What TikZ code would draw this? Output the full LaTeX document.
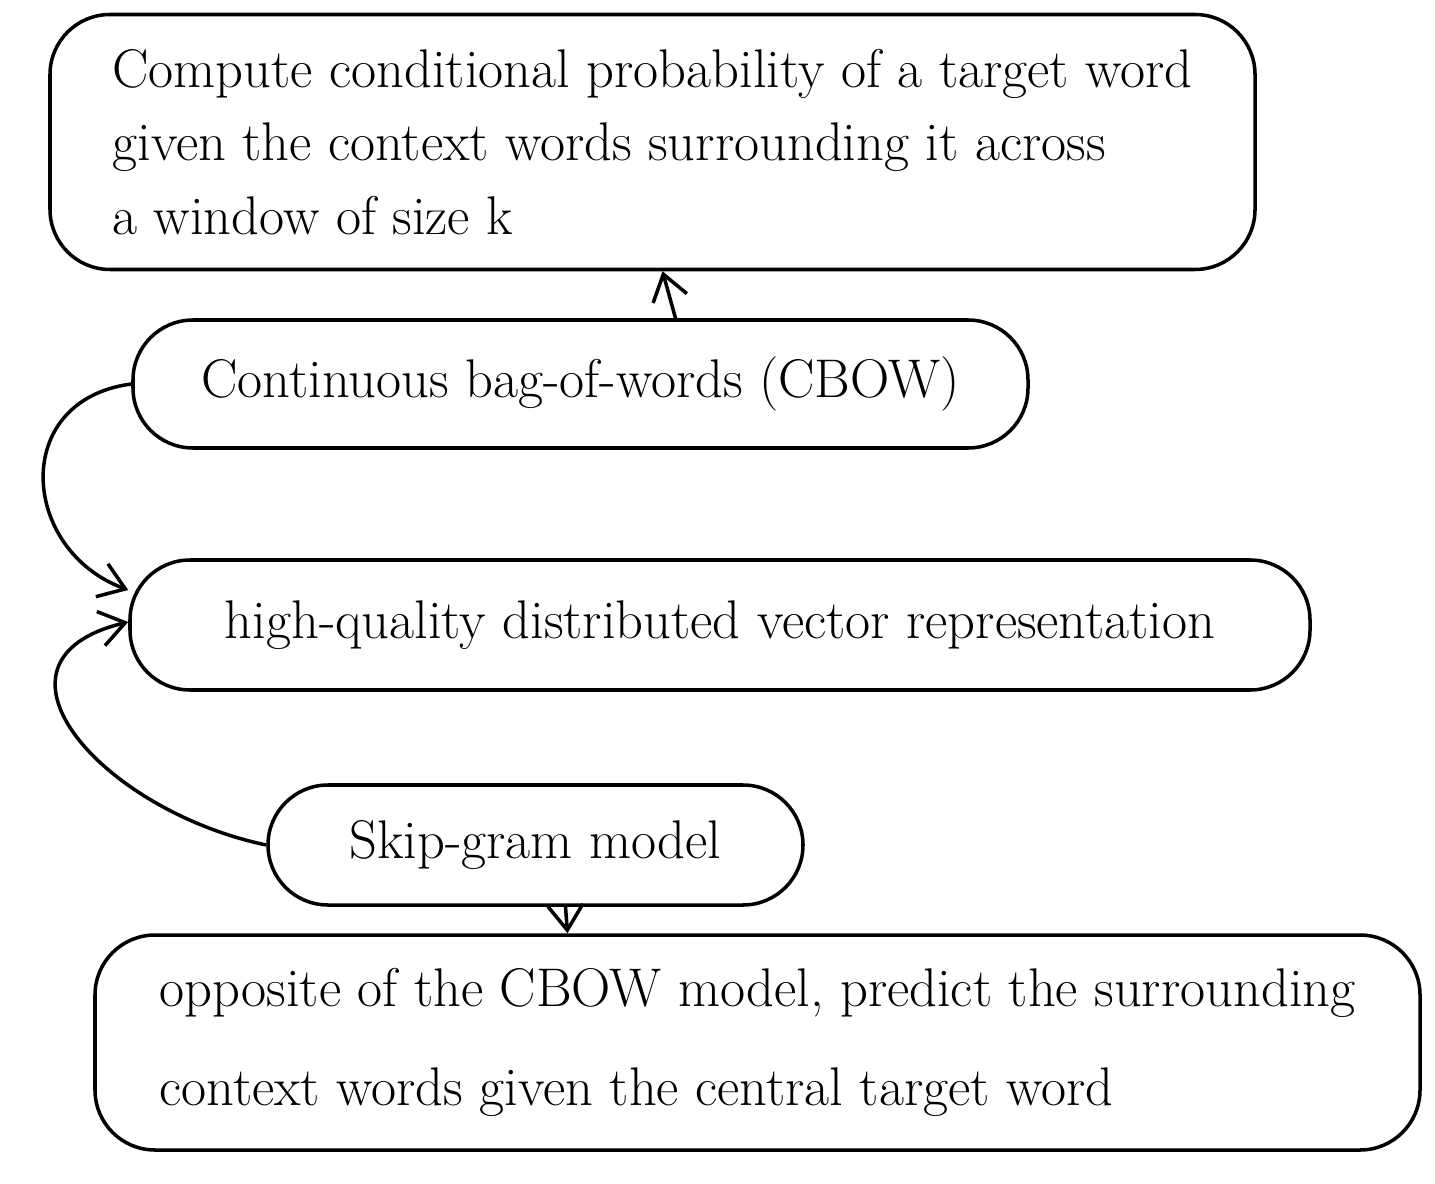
\documentclass[tikz,border=0pt]{standalone}
\usepackage{tikz}
\usetikzlibrary{arrows.meta}

\begin{document}
\begin{tikzpicture}[
	box/.style={draw,line width=1pt,rounded corners=6mm,align=left,font=\fontsize{15.5}{21}\selectfont,inner sep=0pt},
	link/.style={line width=1pt,-{Straight Barb[length=2.5mm,width=3.5mm]}}]
	\useasboundingbox (0,0) rectangle (14.35,-11.84);
	\node[box,minimum width=12.05cm,minimum height=2.55cm](goal) at (6.525,-1.42){Compute conditional probability of a target word\\given the context words surrounding it across\\a window of size k};
	\node[box,minimum width=8.95cm,minimum height=1.28cm](cbow) at (5.805,-3.84){Continuous bag-of-words (CBOW)};
	\node[box,minimum width=11.8cm,minimum height=1.3cm](vec) at (7.2,-6.25){high-quality distributed vector representation};
	\node[box,minimum width=5.35cm,minimum height=1.2cm](skip) at (5.355,-8.45){Skip-gram model};
	\node[box,minimum width=13.25cm,minimum height=2.15cm](opp) at (7.575,-10.425){opposite of the CBOW model, predict the surrounding\\[7pt]context words given the central target word};
	\draw[link]([xshift=0.95cm]cbow.north) -- ([xshift=0.1cm]goal.south);
	\draw[link](cbow.west) .. controls (0.1,-4.0) and (0.2,-5.5) .. ([yshift=3.5mm]vec.west);
	\draw[link](skip.west) .. controls (1.0,-8.1) and (-0.3,-6.6) .. ([yshift=0.3mm]vec.west);
	\draw[link]([xshift=0.3cm]skip.south) -- ([xshift=-1.9cm]opp.north);
\end{tikzpicture}
\end{document}
